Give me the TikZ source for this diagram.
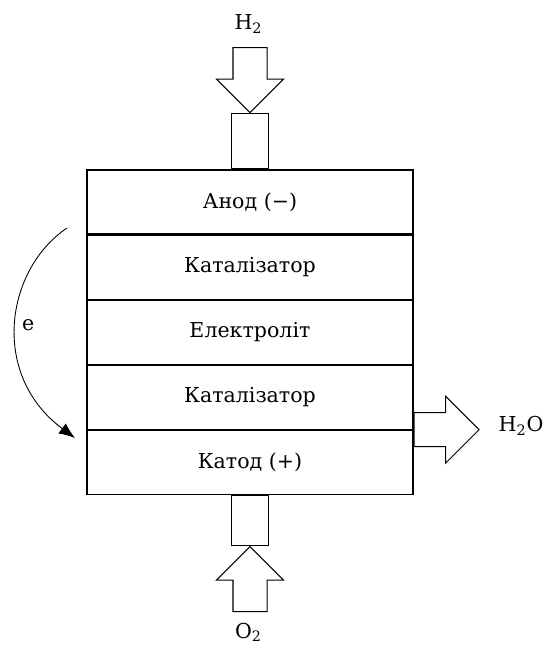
\documentclass[tikz,border=0pt]{standalone}
\usepackage{fontspec}
\setmainfont{DejaVu Serif}
\usetikzlibrary{positioning,shapes.arrows,arrows.meta}

\tikzset{
	layer/.style={draw, minimum width=6.52cm, minimum height=1.28cm, inner sep=0pt},
	pipe/.style={draw, minimum width=0.74cm, minimum height=1.1cm, inner sep=0pt},
	flow/.style={draw, single arrow, single arrow head extend=0.33cm, minimum height=1.3cm, inner sep=0.33cm},
}

\begin{document}
\begin{tikzpicture}[line width=0.6pt, font=\fontsize{11.7}{14}\selectfont]
		\useasboundingbox (0,0) rectangle (10.9,12.9);
	    \node[layer] (anode) at (5,8.86) {Анод (−)};
	    \node[layer, below=0pt of anode] (cat1) {Каталізатор};
	    \node[layer, below=0pt of cat1] (elyte) {Електроліт};
	    \node[layer, below=0pt of elyte] (cat2) {Каталізатор};
	    \node[layer, below=0pt of cat2] (cathode) {Катод (+)};

	    \node[pipe, above=0pt of anode] (pin) {};
	    \node[pipe, below=0pt of cathode, minimum height=1cm] (pout) {};

	    \node[flow, shape border rotate=270, anchor=tip] (h2in) at (pin.north) {};
	    \node[flow, shape border rotate=90, anchor=tip] (o2in) at (pout.south) {};
	    \node[flow, anchor=tail] (waterout) at (cathode.north east) {};

	    \node (h2) at (4.97,12.42) {H\textsubscript{2}};
	    \node (o2) at (4.97,0.25) {O\textsubscript{2}};
	    \node (water) at (10.42,4.38) {H\textsubscript{2}O};

	    \coordinate (e1) at (1.34,8.34);
	    \coordinate (e2) at (1.5,4.14);
	    \draw[-{Latex[length=3.2mm,width=2.5mm]}, line width=0.5pt] (e1) .. controls (0.1,7.5) and (-0.2,5.4) .. node[right] {e} (e2);
	\end{tikzpicture}
\end{document}
